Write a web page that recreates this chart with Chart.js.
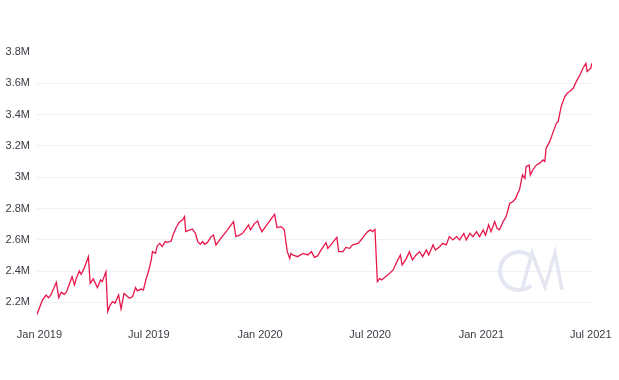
<!DOCTYPE html>
<html>
<head>
<meta charset="utf-8">
<script src="https://cdn.jsdelivr.net/npm/chart.js@4.4.0/dist/chart.umd.min.js"></script>
<style>
  html, body { margin: 0; padding: 0; background: #fff; }
</style>
</head>
<body>
<canvas id="chart" width="619" height="380"></canvas>
<script>
// dates, values in millions
const dates = [
  "2018-12-28", "2019-01-06", "2019-01-12", "2019-01-16", "2019-01-20", "2019-01-29", "2019-02-02", "2019-02-06",
  "2019-02-11", "2019-02-15", "2019-02-24", "2019-02-28", "2019-03-03", "2019-03-08", "2019-03-11", "2019-03-16",
  "2019-03-23", "2019-03-26", "2019-03-31", "2019-04-07", "2019-04-12", "2019-04-15", "2019-04-21", "2019-04-24",
  "2019-04-28", "2019-05-02", "2019-05-06", "2019-05-12", "2019-05-16", "2019-05-21", "2019-05-30", "2019-06-04",
  "2019-06-09", "2019-06-12", "2019-06-18", "2019-06-22", "2019-06-26", "2019-07-01", "2019-07-05", "2019-07-07",
  "2019-07-12", "2019-07-15", "2019-07-19", "2019-07-23", "2019-07-28", "2019-08-01", "2019-08-07", "2019-08-10",
  "2019-08-15", "2019-08-20", "2019-08-26", "2019-08-29", "2019-08-31", "2019-09-06", "2019-09-11", "2019-09-16",
  "2019-09-20", "2019-09-24", "2019-09-28", "2019-10-01", "2019-10-06", "2019-10-12", "2019-10-16", "2019-10-20",
  "2019-10-28", "2019-11-08", "2019-11-18", "2019-11-22", "2019-11-28", "2019-12-03", "2019-12-09", "2019-12-13",
  "2019-12-16", "2019-12-23", "2019-12-28", "2019-12-31", "2020-01-04", "2020-01-14", "2020-01-25", "2020-01-29",
  "2020-02-04", "2020-02-07", "2020-02-10", "2020-02-15", "2020-02-19", "2020-02-21", "2020-02-24", "2020-03-03",
  "2020-03-12", "2020-03-20", "2020-03-26", "2020-03-31", "2020-04-05", "2020-04-11", "2020-04-19", "2020-04-22",
  "2020-04-27", "2020-05-07", "2020-05-10", "2020-05-17", "2020-05-22", "2020-05-28", "2020-06-02", "2020-06-11",
  "2020-06-17", "2020-06-22", "2020-06-27", "2020-07-02", "2020-07-05", "2020-07-09", "2020-07-13", "2020-07-17",
  "2020-07-20", "2020-08-02", "2020-08-08", "2020-08-13", "2020-08-20", "2020-08-23", "2020-08-30", "2020-09-04",
  "2020-09-09", "2020-09-15", "2020-09-21", "2020-09-26", "2020-10-02", "2020-10-06", "2020-10-13", "2020-10-17",
  "2020-10-24", "2020-10-29", "2020-11-04", "2020-11-09", "2020-11-15", "2020-11-21", "2020-11-26", "2020-12-03",
  "2020-12-07", "2020-12-13", "2020-12-18", "2020-12-24", "2020-12-29", "2021-01-04", "2021-01-08", "2021-01-13",
  "2021-01-17", "2021-01-23", "2021-01-27", "2021-01-31", "2021-02-06", "2021-02-11", "2021-02-14", "2021-02-17",
  "2021-02-22", "2021-02-27", "2021-03-02", "2021-03-05", "2021-03-10", "2021-03-14", "2021-03-16", "2021-03-21",
  "2021-03-23", "2021-03-27", "2021-04-02", "2021-04-07", "2021-04-13", "2021-04-16", "2021-04-18", "2021-04-24",
  "2021-04-30", "2021-05-02", "2021-05-05", "2021-05-08", "2021-05-13", "2021-05-19", "2021-05-23", "2021-05-27",
  "2021-06-02", "2021-06-07", "2021-06-13", "2021-06-18", "2021-06-23", "2021-06-25", "2021-07-01", "2021-07-03"
];
const values = [
  2.123, 2.215, 2.247, 2.230, 2.247, 2.328, 2.230, 2.264,
  2.251, 2.268, 2.364, 2.311, 2.353, 2.400, 2.379, 2.417,
  2.492, 2.321, 2.350, 2.294, 2.343, 2.332, 2.396, 2.141,
  2.183, 2.205, 2.194, 2.247, 2.158, 2.257, 2.226, 2.236,
  2.294, 2.273, 2.285, 2.279, 2.343, 2.407, 2.471, 2.524,
  2.513, 2.562, 2.577, 2.556, 2.588, 2.583, 2.592, 2.630,
  2.677, 2.711, 2.727, 2.748, 2.652, 2.662, 2.669, 2.641,
  2.588, 2.571, 2.588, 2.571, 2.583, 2.620, 2.630, 2.567,
  2.609, 2.663, 2.716, 2.620, 2.630, 2.641, 2.673, 2.695,
  2.663, 2.705, 2.720, 2.684, 2.652, 2.705, 2.762, 2.677,
  2.684, 2.677, 2.663, 2.524, 2.481, 2.513, 2.503, 2.492,
  2.513, 2.503, 2.524, 2.488, 2.497, 2.535, 2.581, 2.545,
  2.567, 2.615, 2.524, 2.524, 2.551, 2.545, 2.567, 2.577,
  2.603, 2.630, 2.652, 2.663, 2.652, 2.666, 2.332, 2.353,
  2.343, 2.385, 2.407, 2.449, 2.503, 2.439, 2.481, 2.524,
  2.471, 2.503, 2.524, 2.492, 2.535, 2.503, 2.567, 2.535,
  2.556, 2.577, 2.567, 2.620, 2.599, 2.620, 2.599, 2.641,
  2.599, 2.641, 2.620, 2.652, 2.620, 2.663, 2.630, 2.695,
  2.652, 2.716, 2.673, 2.663, 2.716, 2.748, 2.790, 2.833,
  2.843, 2.865, 2.897, 2.918, 3.014, 2.992, 3.067, 3.078,
  3.014, 3.046, 3.078, 3.088, 3.110, 3.100, 3.184, 3.227,
  3.291, 3.312, 3.344, 3.355, 3.451, 3.515, 3.536, 3.547,
  3.568, 3.611, 3.653, 3.696, 3.728, 3.675, 3.696, 3.728
];
const yTicks = [2.2, 2.4, 2.6, 2.8, 3, 3.2, 3.4, 3.6, 3.8];
const xTicks = ["2019-01-01", "2019-07-01", "2020-01-01", "2020-07-01", "2021-01-01", "2021-07-01"];
const monthNames = ["Jan", "Feb", "Mar", "Apr", "May", "Jun", "Jul", "Aug", "Sep", "Oct", "Nov", "Dec"];

const points = dates.map((d, i) => ({ x: Date.parse(d), y: values[i] }));

// faint "CM" mark behind the line
const watermark = {
  id: "watermark",
  beforeDatasetsDraw(chart) {
    const ctx = chart.ctx;
    ctx.save();
    ctx.strokeStyle = "#e4e7f1";
    ctx.lineWidth = 4;
    ctx.lineCap = "butt";
    ctx.beginPath();
    ctx.arc(519, 271, 19, Math.PI * 0.28, Math.PI * 1.72, false);
    ctx.stroke();
    ctx.lineWidth = 3.5;
    ctx.lineJoin = "miter";
    ctx.beginPath();
    ctx.moveTo(522, 290);
    ctx.lineTo(532, 253);
    ctx.lineTo(545, 287);
    ctx.lineTo(555, 253);
    ctx.lineTo(562, 290);
    ctx.stroke();
    ctx.restore();
  }
};

const font = { family: "'Liberation Sans', Arial, sans-serif", size: 11 };

new Chart(document.getElementById("chart"), {
  type: "line",
  data: {
    datasets: [{
      data: points,
      borderColor: "#e8174b",
      borderWidth: 1.3,
      pointRadius: 0,
      tension: 0,
      fill: false
    }]
  },
  options: {
    responsive: false,
    animation: false,
    layout: { padding: { top: 52, right: 27, left: 0, bottom: 0 } },
    plugins: { legend: { display: false }, tooltip: { enabled: false } },
    scales: {
      x: {
        type: "linear",
        min: Date.parse(dates[0]),
        max: Date.parse(dates[dates.length - 1]),
        afterBuildTicks: (s) => { s.ticks = xTicks.map((t) => ({ value: Date.parse(t) })); },
        afterFit: (s) => { s.height = 62; },
        grid: { display: false },
        border: { display: false },
        ticks: {
          autoSkip: false,
          maxRotation: 0,
          padding: 2,
          color: "#3b3b45",
          font: font,
          callback: (v) => {
            const d = new Date(v);
            return monthNames[d.getUTCMonth()] + " " + d.getUTCFullYear();
          }
        }
      },
      y: {
        min: 2.1,
        max: 3.8,
        afterBuildTicks: (s) => { s.ticks = yTicks.map((v) => ({ value: v })); },
        afterFit: (s) => { s.width = 37; },
        border: { display: false },
        grid: {
          drawTicks: false,
          lineWidth: 1,
          color: (c) => (c.tick && c.tick.value === 3.8 ? "rgba(0,0,0,0)" : "#f1f1f3")
        },
        ticks: {
          padding: 7,
          color: "#3b3b45",
          font: font,
          callback: (v) => v + "M"
        }
      }
    }
  },
  plugins: [watermark]
});
</script>
</body>
</html>
